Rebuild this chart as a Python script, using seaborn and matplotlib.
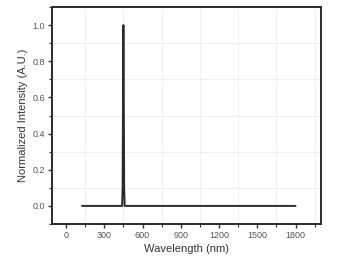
import matplotlib
matplotlib.use("Agg")
import matplotlib.pyplot as plt
import seaborn as sns
import pandas as pd
from matplotlib.ticker import MultipleLocator

wavelength = [125, 300, 430, 440, 444, 447, 450, 453, 456, 460, 470, 600, 900, 1200, 1500, 1800]
intensity = [0.0, 0.0, 0.0, 0.0, 0.1, 0.6, 1.0, 0.6, 0.1, 0.0, 0.0, 0.0, 0.0, 0.0, 0.0, 0.0]
xticks = [0, 300, 600, 900, 1200, 1500, 1800]
yticks = [0.0, 0.2, 0.4, 0.6, 0.8, 1.0]

sns.set_theme(style="white")
plt.rcParams['font.family'] = ['Liberation Sans', 'DejaVu Sans']

df = pd.DataFrame({"Wavelength": wavelength, "Intensity": intensity})

fig = plt.figure(figsize=(3.47, 2.60), dpi=100)
ax = fig.add_axes([52/347, 1 - 224/260, (321-52)/347, (224-7)/260])
sns.lineplot(data=df, x="Wavelength", y="Intensity", ax=ax, color="#2a2a2a", linewidth=1.4)

ax.set_xlim(-110, 2000)
ax.set_ylim(-0.1, 1.1)
ax.set_xticks(xticks)
ax.set_yticks(yticks)
ax.set_yticklabels([f"{v:.1f}" for v in yticks])
ax.xaxis.set_minor_locator(MultipleLocator(150))
ax.yaxis.set_minor_locator(MultipleLocator(0.1))
ax.grid(True, which="minor", color="#f0f0f0", linewidth=0.8)
ax.grid(False, which="major")
ax.tick_params(which="major", direction="out", length=3, width=1, color="#333333",
               labelsize=6.5, labelcolor="#555555", bottom=True, left=True, pad=2)
ax.tick_params(which="minor", direction="out", length=2, width=0.8, color="#333333",
               bottom=True, left=True)
for s in ax.spines.values():
    s.set_color("#2a2a2a")
    s.set_linewidth(1.4)
ax.set_xlabel("Wavelength (nm)", fontsize=8, color="#333333", labelpad=3)
ax.set_ylabel("Normalized Intensity (A.U.)", fontsize=8, color="#333333", labelpad=3)

fig.savefig("out.png", dpi=100)
